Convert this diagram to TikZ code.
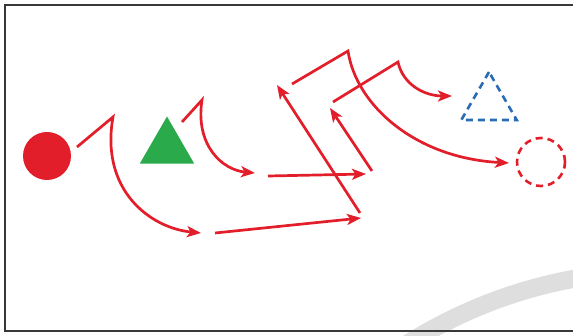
\documentclass[tikz,border=0pt]{standalone}
\usetikzlibrary{arrows.meta,shapes.geometric}
\definecolor{myred}{HTML}{E31E2B}
\definecolor{mygreen}{HTML}{2AAA4A}
\definecolor{myblue}{HTML}{2A6CB3}
\definecolor{arcgray}{HTML}{DEDEDE}
\definecolor{framegray}{HTML}{383838}
\begin{document}
\begin{tikzpicture}[x=1pt,y=-1pt,
  arr/.style={draw=myred, line width=2.7pt, line join=miter, -{Stealth[length=14pt,width=11pt,inset=3.5pt]}}]
\useasboundingbox (0,0) rectangle (573,336);
\begin{scope}
  \clip (0,0) rectangle (573,336);
  \draw[arcgray, line width=18pt] (660,745) circle[radius=474];
  \draw[line width=2.8pt, draw=framegray] (5,5) rectangle (600,331);
\end{scope}

% shapes
\node[circle, fill=myred, minimum size=48pt, inner sep=0pt] (rc) at (47,156) {};
\node[regular polygon, regular polygon sides=3, fill=mygreen, minimum size=63pt, inner sep=0pt] (gt) at (167,148) {};
\node[regular polygon, regular polygon sides=3, draw=myblue, line width=2.6pt, dash pattern=on 7pt off 5pt, minimum size=64pt, inner sep=0pt] (bt) at (489,104) {};
\node[circle, draw=myred, line width=2.6pt, dash pattern=on 7pt off 5pt, minimum size=48pt, inner sep=0pt] (dc) at (541,162) {};

% coordinates
\coordinate (a1s) at (77,147);
\coordinate (a1p) at (113,117);
\coordinate (a1e) at (201,233);
\coordinate (a2s) at (182,122);
\coordinate (a2p) at (202,100);
\coordinate (a2e) at (255,173);
\coordinate (a3s) at (268,176);
\coordinate (a3e) at (366,174);
\coordinate (a4s) at (215,233);
\coordinate (a4e) at (361,218);
\coordinate (a5s) at (360,213);
\coordinate (a5e) at (277,85);
\coordinate (a6s) at (372,171);
\coordinate (a6e) at (330,108);
\coordinate (a7s) at (292,84);
\coordinate (a7p) at (348,51);
\coordinate (a7e) at (509,163);
\coordinate (a8s) at (333,102);
\coordinate (a8p) at (398,62);
\coordinate (a8e) at (452,96);

% connectors
\draw[arr] (a1s) -- (a1p) .. controls (100,190) and (150,228) .. (a1e);
\draw[arr] (a2s) -- (a2p) .. controls (195,145) and (222,170) .. (a2e);
\draw[arr] (a3s) -- (a3e);
\draw[arr] (a4s) -- (a4e);
\draw[arr] (a5s) -- (a5e);
\draw[arr] (a6s) -- (a6e);
\draw[arr] (a7s) -- (a7p) .. controls (356,105) and (415,158) .. (a7e);
\draw[arr] (a8s) -- (a8p) .. controls (403,85) and (425,96) .. (a8e);
\end{tikzpicture}
\end{document}
